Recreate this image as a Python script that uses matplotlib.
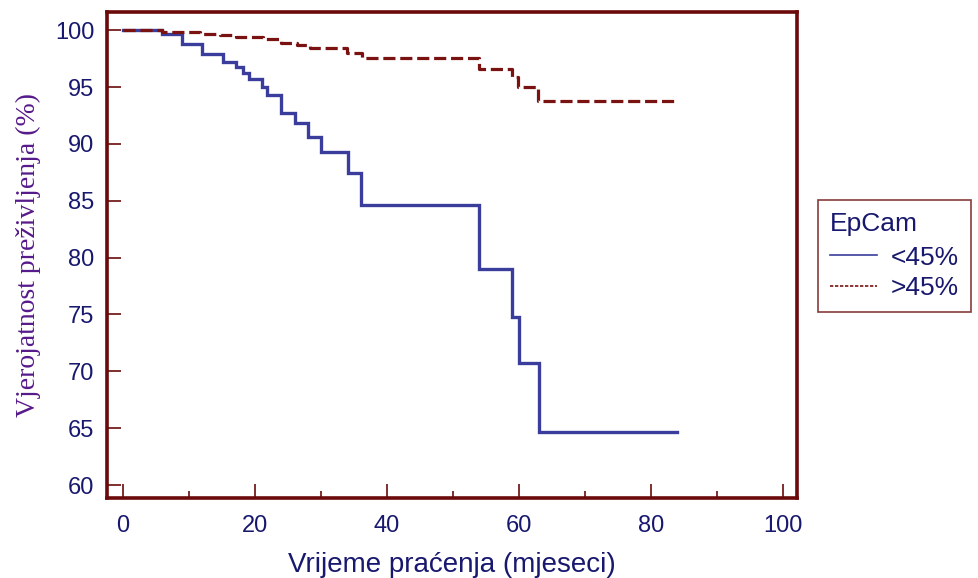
import matplotlib
matplotlib.use("Agg")
import matplotlib.pyplot as plt
from matplotlib.lines import Line2D
from matplotlib.ticker import MultipleLocator

# Kaplan-Meier step data (months, survival %)
low_t = [0, 6, 9, 12, 15.2, 17.1, 18.2, 19.1, 21.1, 21.9, 24, 26.1, 28.1, 30, 34.1, 36.1, 54, 58.9, 60, 63, 84]
low_s = [100, 99.7, 98.8, 97.9, 97.2, 96.8, 96.25, 95.7, 95.0, 94.3, 92.7, 91.8, 90.6, 89.3, 87.4, 84.6, 79.0, 74.8, 70.7, 64.7, 64.7]

high_t = [0, 6, 11.7, 14.7, 17.2, 21.2, 24, 26.3, 28.3, 33.9, 36.2, 53.9, 58.9, 59.9, 62.9, 84]
high_s = [100, 99.85, 99.7, 99.56, 99.4, 99.2, 98.9, 98.7, 98.4, 98.0, 97.6, 96.6, 95.9, 95.05, 93.8, 93.8]

x_ticks = [0, 20, 40, 60, 80, 100]
y_ticks = [60, 65, 70, 75, 80, 85, 90, 95, 100]
series_labels = ["<45%", ">45%"]
legend_title = "EpCam"
x_label = "Vrijeme praćenja (mjeseci)"
y_label = "Vjerojatnost preživljenja (%)"

frame_col = "#6a0a0a"
blue = "#3a3d9c"
red = "#7a1212"
navy = "#18186e"

fig = plt.figure(figsize=(9.79, 5.78), dpi=100)
ax = fig.add_axes([0.1093, 0.1384, 0.7048, 0.8408])

ax.step(low_t, low_s, where="post", color=blue, lw=2.4, solid_joinstyle="miter")
ax.step(high_t, high_s, where="post", color=red, lw=2.3, linestyle=(0, (3.8, 1.5)))

ax.set_xlim(-2.4, 102.1)
ax.set_ylim(58.86, 101.6)
ax.set_xticks(x_ticks)
ax.xaxis.set_minor_locator(MultipleLocator(10))
ax.set_yticks(y_ticks)

for s in ax.spines.values():
    s.set_color(frame_col)
    s.set_linewidth(2.6)

ax.tick_params(axis="both", which="major", direction="in", length=10, width=1.2,
               color=frame_col, labelcolor=navy, labelsize=17)
ax.tick_params(axis="y", which="major", pad=9)
ax.tick_params(axis="x", which="major", pad=12)
ax.tick_params(axis="x", which="minor", direction="in", length=5, width=1.2, color=frame_col)
for lab in ax.get_xticklabels() + ax.get_yticklabels():
    lab.set_fontfamily("Liberation Sans")

ax.set_xlabel(x_label, fontsize=20, color=navy, family="Liberation Sans", labelpad=11)
ax.set_ylabel(y_label, fontsize=20, color="#561a8a", family="Liberation Serif", labelpad=10)

handles = [Line2D([], [], color=blue, lw=1.2),
           Line2D([], [], color=red, lw=1.2, linestyle=(0, (2, 1)))]
leg = fig.legend(handles, series_labels, title=legend_title, loc="upper left",
                 bbox_to_anchor=(0.8355, 0.654), frameon=True, fancybox=False,
                 prop={"family": "Liberation Sans", "size": 19},
                 title_fontproperties={"family": "Liberation Sans", "size": 19},
                 handlelength=1.8, handletextpad=0.5, borderpad=0.45,
                 labelspacing=0.26, borderaxespad=0)
leg.get_frame().set_edgecolor(frame_col)
leg.get_frame().set_linewidth(1.2)
leg._legend_box.align = "left"
leg._legend_box.sep = 7
for t in leg.get_texts():
    t.set_color(navy)
leg.get_title().set_color(navy)

fig.savefig("out.png", dpi=100)
